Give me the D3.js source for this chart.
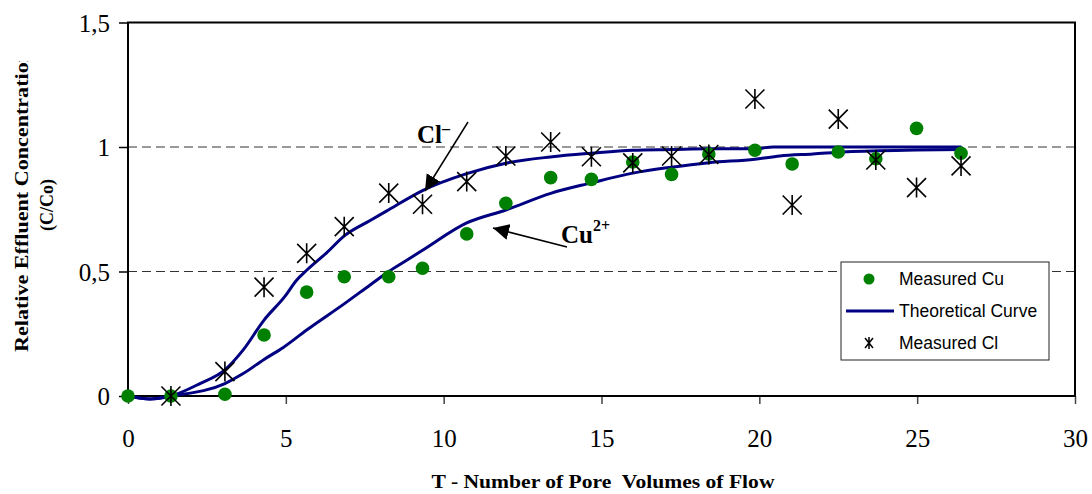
<!DOCTYPE html>
<html lang="en">
<head>
    <meta charset="UTF-8">
    <style>
        body { margin: 0; background: #fff; }
        .tick text { font-family: "Liberation Serif", "Times New Roman", serif; font-size: 25px; fill: #000; }
        .axis-title { font-family: "Liberation Serif", "Times New Roman", serif; font-weight: bold; font-size: 18px; white-space: pre; }
        .legend text { font-family: "Liberation Sans", Arial, sans-serif; font-size: 17.5px; }
        .note { font-family: "Liberation Serif", "Times New Roman", serif; font-weight: bold; font-size: 25px; }
    </style>
    <script src="https://d3js.org/d3.v7.min.js"></script>
</head>
<body>
    <div id="chart"></div>

    <script>
        // measured points (pore volumes T, relative concentration C/Co)
        var tMeasured = [0, 1.36, 3.07, 4.31, 5.66, 6.85, 8.26, 9.33, 10.73, 11.97, 13.39, 14.68, 15.99, 17.22, 18.40, 19.86, 21.04, 22.50, 23.69, 24.98, 26.39];
        var cuMeasured = [0, 0, 0.007, 0.245, 0.417, 0.479, 0.479, 0.513, 0.651, 0.774, 0.877, 0.870, 0.940, 0.890, 0.972, 0.987, 0.932, 0.980, 0.953, 1.075, 0.975];
        var clMeasured = [null, 0, 0.098, 0.437, 0.573, 0.68, 0.815, 0.770, 0.861, 0.964, 1.020, 0.961, 0.936, 0.964, 0.970, 1.193, 0.767, 1.112, 0.948, 0.837, 0.924];

        // theoretical curves
        var clCurveT = [0, 0.7, 1.36, 2.28, 3.07, 3.65, 4.31, 4.97, 5.34, 5.66, 6.29, 6.87, 7.67, 8.26, 9.33, 10.73, 11.97, 13.38, 14.68, 15.99, 17.22, 18.40, 19.86, 20.44, 26.4];
        var clCurveC = [0, -0.012, 0, 0.05, 0.105, 0.185, 0.305, 0.40, 0.465, 0.505, 0.575, 0.645, 0.705, 0.748, 0.825, 0.893, 0.935, 0.960, 0.975, 0.987, 0.990, 0.993, 0.993, 1.0, 1.0];
        var cuCurveT = [0, 0.7, 1.36, 3.07, 3.65, 4.31, 4.92, 5.66, 6.87, 7.67, 8.26, 8.93, 9.33, 10.73, 11.97, 13.39, 14.68, 15.99, 17.22, 18.40, 19.86, 20.65, 21.7, 22.77, 24.98, 26.41];
        var cuCurveC = [0, -0.012, 0, 0.05, 0.09, 0.147, 0.195, 0.265, 0.372, 0.446, 0.50, 0.553, 0.585, 0.695, 0.747, 0.814, 0.856, 0.895, 0.919, 0.937, 0.951, 0.964, 0.972, 0.981, 0.988, 0.99];

        var xTicks = [0, 5, 10, 15, 20, 25, 30];
        var yTicks = [0, 0.5, 1, 1.5];
        var yTickLabels = ["0", "0,5", "1", "1,5"];
        var legendLabels = ["Measured Cu", "Theoretical Curve", "Measured Cl"];

        var W = 1092, H = 494;
        var svg = d3.select("#chart").append("svg")
            .attr("width", W)
            .attr("height", H);

        var x = d3.scaleLinear().domain([0, 30]).range([128, 1075]);
        var y = d3.scaleLinear().domain([0, 1.5]).range([396, 22.5]);

        // dashed reference lines
        svg.selectAll(".grid")
            .data([0.5, 1])
            .enter()
            .append("line")
            .attr("x1", x(0)).attr("x2", x(30))
            .attr("y1", function (d) { return y(d); })
            .attr("y2", function (d) { return y(d); })
            .attr("stroke", "#333")
            .attr("stroke-width", 1)
            .attr("stroke-dasharray", "9,5");

        // axes
        var xAxis = svg.append("g")
            .attr("transform", "translate(0," + y(0) + ")")
            .call(d3.axisBottom(x).tickValues(xTicks).tickSize(8).tickFormat(d3.format("d")));
        xAxis.select(".domain").remove();
        xAxis.selectAll(".tick line").attr("stroke", "#444").attr("stroke-width", 1.5);
        xAxis.selectAll(".tick text").attr("y", 51).attr("dy", 0);

        var yAxis = svg.append("g")
            .attr("transform", "translate(" + x(0) + ",0)")
            .call(d3.axisLeft(y).tickValues(yTicks).tickSize(9)
                .tickFormat(function (d, i) { return yTickLabels[i]; }));
        yAxis.select(".domain").remove();
        yAxis.selectAll(".tick line").attr("stroke", "#000").attr("stroke-width", 1.5);
        yAxis.selectAll(".tick text").attr("x", -18).attr("dy", "0.34em");

        // plot frame
        svg.append("rect")
            .attr("x", x(0)).attr("y", y(1.5))
            .attr("width", x(30) - x(0))
            .attr("height", y(0) - y(1.5))
            .attr("fill", "none")
            .attr("stroke", "#000")
            .attr("stroke-width", 2);

        // theoretical curves
        var line = d3.line()
            .x(function (d) { return x(d[0]); })
            .y(function (d) { return y(d[1]); })
            .curve(d3.curveMonotoneX);

        [[clCurveT, clCurveC], [cuCurveT, cuCurveC]].forEach(function (c) {
            svg.append("path")
                .datum(d3.zip(c[0], c[1]))
                .attr("d", line)
                .attr("fill", "none")
                .attr("stroke", "#000080")
                .attr("stroke-width", 3);
        });

        // measured Cu
        svg.selectAll(".cu")
            .data(d3.zip(tMeasured, cuMeasured))
            .enter()
            .append("circle")
            .attr("cx", function (d) { return x(d[0]); })
            .attr("cy", function (d) { return y(d[1]); })
            .attr("r", 6.8)
            .attr("fill", "#008000");

        // measured Cl (asterisks)
        function star(s) {
            return "M" + (-s) + "," + (-s) + "L" + s + "," + s +
                "M" + (-s) + "," + s + "L" + s + "," + (-s) +
                "M0," + (-s - 0.5) + "L0," + (s + 0.5);
        }
        svg.selectAll(".cl")
            .data(d3.zip(tMeasured, clMeasured).filter(function (d) { return d[1] !== null; }))
            .enter()
            .append("path")
            .attr("transform", function (d) { return "translate(" + x(d[0]) + "," + y(d[1]) + ")"; })
            .attr("d", star(9.5))
            .attr("fill", "none")
            .attr("stroke", "#000")
            .attr("stroke-width", 1.6);

        // annotations
        var defs = svg.append("defs");
        defs.append("marker")
            .attr("id", "head")
            .attr("viewBox", "0 0 10 10")
            .attr("refX", 10).attr("refY", 5)
            .attr("markerWidth", 16).attr("markerHeight", 16)
            .attr("markerUnits", "userSpaceOnUse")
            .attr("orient", "auto")
            .append("path")
            .attr("d", "M0,0L10,5L0,10Z")
            .attr("fill", "#000");

        svg.append("line")
            .attr("x1", 468).attr("y1", 122)
            .attr("x2", 425).attr("y2", 191)
            .attr("stroke", "#000").attr("stroke-width", 1.5)
            .attr("marker-end", "url(#head)");
        var clNote = svg.append("text").attr("class", "note").attr("x", 417).attr("y", 143).text("Cl");
        clNote.append("tspan").attr("dy", -9).attr("font-size", 16).text("\u2013");

        svg.append("line")
            .attr("x1", 567).attr("y1", 247)
            .attr("x2", 493).attr("y2", 228)
            .attr("stroke", "#000").attr("stroke-width", 1.5)
            .attr("marker-end", "url(#head)");
        var cuNote = svg.append("text").attr("class", "note").attr("x", 561).attr("y", 243).text("Cu");
        cuNote.append("tspan").attr("dy", -12).attr("font-size", 16).text("2+");

        // axis titles
        svg.append("text")
            .attr("class", "axis-title")
            .attr("x", 603).attr("y", 488)
            .attr("text-anchor", "middle")
            .attr("textLength", 343)
            .attr("lengthAdjust", "spacingAndGlyphs")
            .text("T - Number of Pore  Volumes of Flow");

        defs.append("clipPath").attr("id", "ylabclip")
            .append("rect").attr("x", 0).attr("y", 61).attr("width", 60).attr("height", 300);
        var ylab = svg.append("g").attr("clip-path", "url(#ylabclip)");
        ylab.append("text")
            .attr("class", "axis-title")
            .attr("transform", "translate(28,352)rotate(-90)")
            .attr("textLength", 302)
            .attr("lengthAdjust", "spacingAndGlyphs")
            .text("Relative Effluent Concentration");
        ylab.append("text")
            .attr("class", "axis-title")
            .attr("transform", "translate(53,205)rotate(-90)")
            .attr("text-anchor", "middle")
            .text("(C/Co)");

        // legend
        var legend = svg.append("g").attr("class", "legend");
        legend.append("rect")
            .attr("x", 841).attr("y", 262)
            .attr("width", 208).attr("height", 98)
            .attr("fill", "#fff")
            .attr("stroke", "#222")
            .attr("stroke-width", 1);
        var rowY = [279, 311, 343];
        legend.append("circle").attr("cx", 869).attr("cy", rowY[0]).attr("r", 5.5).attr("fill", "#008000");
        legend.append("line").attr("x1", 846).attr("x2", 894)
            .attr("y1", rowY[1]).attr("y2", rowY[1])
            .attr("stroke", "#000080").attr("stroke-width", 3);
        legend.append("path")
            .attr("transform", "translate(869," + rowY[2] + ")")
            .attr("d", "M-4,-5L4,5M-4,5L4,-5M0,-6L0,6")
            .attr("stroke", "#000").attr("stroke-width", 1.5).attr("fill", "none");
        legend.selectAll(".lab")
            .data(legendLabels)
            .enter()
            .append("text")
            .attr("x", 899)
            .attr("y", function (d, i) { return rowY[i]; })
            .attr("dy", "0.36em")
            .text(function (d) { return d; });
    </script>
</body>
</html>
